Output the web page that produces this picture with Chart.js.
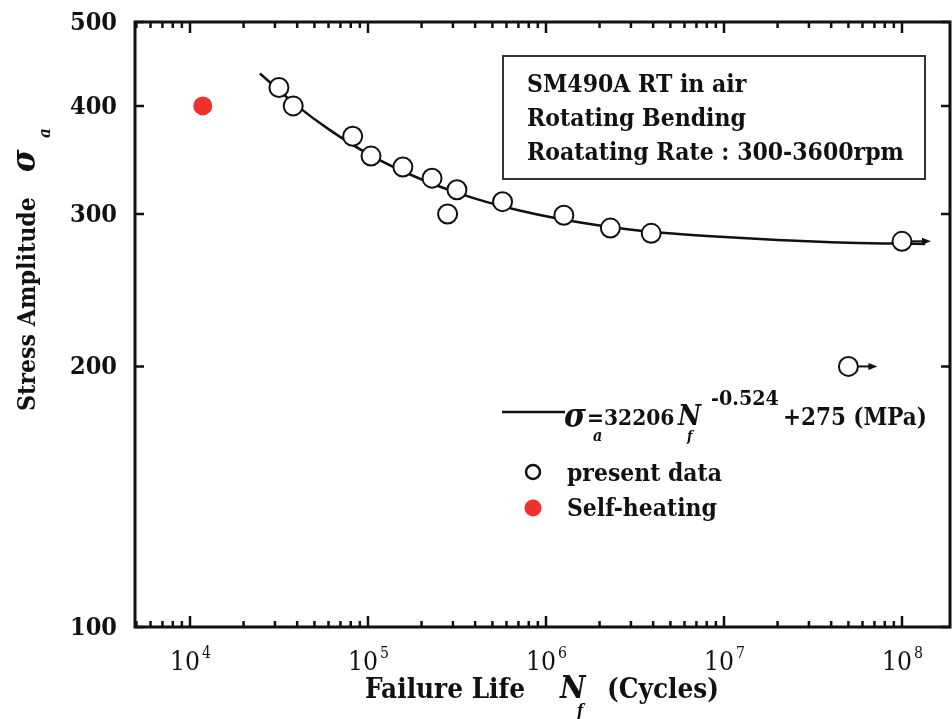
<!DOCTYPE html>
<html><head><meta charset="utf-8">
<script src="https://cdn.jsdelivr.net/npm/chart.js@4/dist/chart.umd.min.js"></script>
<style>html,body{margin:0;padding:0;background:#fff;}#wrap{width:952px;height:719px;}</style>
</head><body><div id="wrap"><canvas id="c" width="952" height="719"></canvas></div>
<script>
// ---- data ----
const presentN = [3.16e4, 3.8e4, 8.2e4, 1.04e5, 1.57e5, 2.29e5, 3.16e5, 2.8e5, 5.7e5, 1.26e6, 2.3e6, 3.9e6, 1e8, 5e7];
const presentS = [420, 400, 369, 350, 340, 330, 320, 300, 310, 299, 289, 285, 279, 200];
const runoutN = [1e8, 5e7];
const runoutS = [279, 200];
const heatN = [1.18e4];
const heatS = [400];
const fitN = [2.47e4, 4e4, 6e4, 1e5, 1.5e5, 2.5e5, 4e5, 7e5, 1.2e6, 2e6, 4e6, 8e6, 2e7, 5e7, 1.35e8];
const fitS = [436, 400, 376, 352, 337.5, 323, 312.5, 303, 296, 291, 286, 283, 280, 278, 277];
const xTickValues = [1e4, 1e5, 1e6, 1e7, 1e8];
const xTickExps = ['4', '5', '6', '7', '8'];
const yTickValues = [100, 200, 300, 400, 500];
const yTickLabels = ['100', '200', '300', '400', '500'];
const infoLines = ['SM490A RT in air', 'Rotating Bending', 'Roatating Rate : 300-3600rpm'];

const F = '"DejaVu Serif Condensed", "DejaVu Serif", serif';
const pts = (a, b) => a.map((v, i) => ({x: v, y: b[i]}));

// font size such that string s is `target` px wide
function fitSize(ctx, s, target, style) {
  ctx.font = style + ' 100px ' + F;
  return 100 * target / ctx.measureText(s).width;
}
function txt(ctx, s, x, y, style, size) {
  ctx.font = style + ' ' + size.toFixed(2) + 'px ' + F;
  ctx.fillText(s, x, y);
}
function arrowHead(ctx, x, y, len, half) {
  ctx.beginPath();
  ctx.moveTo(x, y); ctx.lineTo(x - len, y - half); ctx.lineTo(x - len, y + half); ctx.closePath(); ctx.fill();
}

const decor = {
  id: 'decor',
  afterDraw(chart) {
    const ctx = chart.ctx, a = chart.chartArea, xs = chart.scales.x, ys = chart.scales.y;
    ctx.save();
    ctx.fillStyle = '#111'; ctx.strokeStyle = '#111';
    ctx.textBaseline = 'alphabetic'; ctx.textAlign = 'left';
    // runout arrows
    ctx.lineWidth = 2;
    runoutN.forEach((n, i) => {
      const px = xs.getPixelForValue(n), py = ys.getPixelForValue(runoutS[i]);
      ctx.beginPath(); ctx.moveTo(px + 9, py); ctx.lineTo(px + 22, py); ctx.stroke();
      arrowHead(ctx, px + 29, py, 9, 3.5);
    });
    // frame
    ctx.lineWidth = 3;
    ctx.strokeRect(a.left, a.top, a.right - a.left, a.bottom - a.top);
    // x ticks
    ctx.lineWidth = 2.5;
    for (let d = 3; d <= 8; d++) {
      for (let k = 1; k <= 9; k++) {
        const v = k * Math.pow(10, d);
        if (v <= xs.min || v >= xs.max) continue;
        const px = xs.getPixelForValue(v), L = k === 1 ? 11 : 6;
        ctx.beginPath(); ctx.moveTo(px, a.bottom); ctx.lineTo(px, a.bottom - L);
        ctx.moveTo(px, a.top); ctx.lineTo(px, a.top + L); ctx.stroke();
      }
    }
    // y ticks
    yTickValues.forEach(v => {
      const py = ys.getPixelForValue(v);
      ctx.beginPath(); ctx.moveTo(a.left, py); ctx.lineTo(a.left + 9, py);
      ctx.moveTo(a.right, py); ctx.lineTo(a.right - 9, py); ctx.stroke();
    });
    // y tick labels
    const ySize = fitSize(ctx, '500', 47, 'bold');
    ctx.textAlign = 'right';
    yTickValues.forEach((v, i) => txt(ctx, yTickLabels[i], 117, ys.getPixelForValue(v) + 8, 'bold', ySize));
    ctx.textAlign = 'left';
    // x tick labels
    const xSize = fitSize(ctx, '10', 30, '');
    xTickValues.forEach((v, i) => {
      const px = xs.getPixelForValue(v);
      txt(ctx, '10', px - 20, 670, '', xSize);
      txt(ctx, xTickExps[i], px + 12, 658, '', xSize * 0.6);
    });
    // x title
    const tSize = fitSize(ctx, 'Failure Life', 160, 'bold');
    txt(ctx, 'Failure Life', 365, 698, 'bold', tSize);
    txt(ctx, 'N', 560, 698, 'bold italic', 31);
    txt(ctx, 'f', 577, 716, 'bold italic', 16);
    txt(ctx, '(Cycles)', 607, 698, 'bold', tSize);
    // y title (rotated)
    ctx.save();
    ctx.translate(35, 411); ctx.rotate(-Math.PI / 2);
    txt(ctx, 'Stress Amplitude', 0, 0, 'bold', fitSize(ctx, 'Stress Amplitude', 214, 'bold'));
    txt(ctx, 'σ', 239, 0, 'bold italic', 34);
    txt(ctx, 'a', 273, 15, 'bold italic', 17);
    ctx.restore();
    // info box
    ctx.lineWidth = 2; ctx.strokeStyle = '#333';
    ctx.strokeRect(503, 56, 422, 123);
    ctx.strokeStyle = '#111';
    const bSize = fitSize(ctx, infoLines[2], 377, 'bold');
    infoLines.forEach((t, i) => txt(ctx, t, 527, 92 + i * 34, 'bold', bSize));
    // legend: fit line + formula
    ctx.lineWidth = 2.5;
    ctx.beginPath(); ctx.moveTo(502, 412); ctx.lineTo(565, 412); ctx.stroke();
    txt(ctx, 'σ', 564, 427, 'bold italic', 33);
    txt(ctx, 'a', 593, 441, 'bold italic', 16);
    txt(ctx, '=32206', 587, 425, 'bold', 22.5);
    txt(ctx, 'N', 678, 425, 'bold italic', 28);
    txt(ctx, 'f', 687, 441, 'bold italic', 14);
    txt(ctx, '-0.524', 711, 405, 'bold', fitSize(ctx, '-0.524', 68, 'bold'));
    txt(ctx, '+275 (MPa)', 783, 425, 'bold', fitSize(ctx, '+275 (MPa)', 144, 'bold'));
    // legend markers
    ctx.lineWidth = 2.5;
    ctx.beginPath(); ctx.arc(533, 472, 7, 0, Math.PI * 2); ctx.stroke();
    ctx.fillStyle = '#f0302a';
    ctx.beginPath(); ctx.arc(533, 508, 8.5, 0, Math.PI * 2); ctx.fill();
    ctx.fillStyle = '#111';
    const lSize = fitSize(ctx, 'present data', 155, 'bold');
    txt(ctx, 'present data', 567, 481, 'bold', lSize);
    txt(ctx, 'Self-heating', 567, 516, 'bold', lSize);
    ctx.restore();
  }
};

new Chart(document.getElementById('c'), {
  type: 'scatter',
  data: {
    datasets: [
      {label: 'present data', data: pts(presentN, presentS), order: 0,
       pointRadius: 9.5, pointBorderWidth: 2, pointBorderColor: '#111', pointBackgroundColor: '#fff', showLine: false},
      {label: 'Self-heating', data: pts(heatN, heatS), order: 1,
       pointRadius: 9.5, pointBorderWidth: 0, pointBackgroundColor: '#f0302a', pointBorderColor: '#f0302a', showLine: false},
      {label: 'fit', data: pts(fitN, fitS), order: 2, showLine: true, pointRadius: 0,
       borderColor: '#111', borderWidth: 2.5, cubicInterpolationMode: 'monotone'}
    ]
  },
  options: {
    responsive: false, animation: false, devicePixelRatio: 1,
    layout: {autoPadding: false, padding: {left: 135, right: 2, top: 22, bottom: 92}},
    scales: {
      x: {type: 'logarithmic', min: 4909, max: 1.861e8, display: false},
      y: {type: 'logarithmic', min: 100, max: 500, display: false}
    },
    plugins: {legend: {display: false}, tooltip: {enabled: false}}
  },
  plugins: [decor]
});
</script></body></html>
